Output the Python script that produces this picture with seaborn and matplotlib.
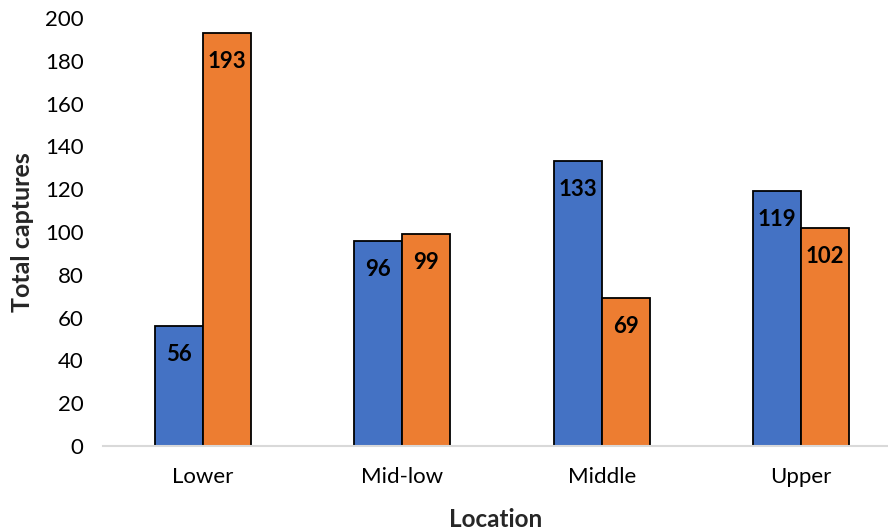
import matplotlib
matplotlib.use("Agg")
import matplotlib.pyplot as plt
import seaborn as sns
import pandas as pd

locations = ["Lower", "Mid-low", "Middle", "Upper"]
group_a = [56, 96, 133, 119]
group_b = [193, 99, 69, 102]
yticks = [0, 20, 40, 60, 80, 100, 120, 140, 160, 180, 200]

sns.set_theme(style="white")
plt.rcParams["font.family"] = ["Lato", "DejaVu Sans"]

df = pd.DataFrame({
    "Location": locations * 2,
    "Captures": group_a + group_b,
    "Group": ["A"] * len(locations) + ["B"] * len(locations),
})

fig = plt.figure(figsize=(8.88, 5.31), dpi=100)
ax = fig.add_axes([0.116, 0.160, 0.884, 0.806])

sns.barplot(data=df, x="Location", y="Captures", hue="Group",
            order=locations, hue_order=["A", "B"],
            palette=["#4472C4", "#ED7D31"], width=0.48,
            edgecolor="black", linewidth=1.3, saturation=1,
            legend=False, ax=ax)

for container in ax.containers:
    for bar in container:
        h = bar.get_height()
        ax.annotate(f"{h:.0f}", (bar.get_x() + bar.get_width() / 2, h),
                    xytext=(0, -20.5), textcoords="offset points",
                    ha="center", va="center", fontsize=16,
                    fontweight="bold", color="black")

ax.set_xlim(-0.5, 3.435)
ax.set_ylim(0, 200)
ax.set_yticks(yticks)
ax.set_yticklabels([str(t) for t in yticks])
ax.tick_params(axis="y", length=0, pad=14, labelsize=16, labelcolor="#000000")
ax.tick_params(axis="x", length=0, pad=15, labelsize=16, labelcolor="#000000")

for side in ["top", "right", "left"]:
    ax.spines[side].set_visible(False)
ax.spines["bottom"].set_color("#D9D9D9")
ax.spines["bottom"].set_linewidth(1.5)

ax.set_xlabel("Location", fontsize=17.5, fontweight="bold", labelpad=15)
ax.set_ylabel("Total captures", fontsize=18, fontweight="bold", labelpad=8)

fig.savefig("out.png", dpi=100)
